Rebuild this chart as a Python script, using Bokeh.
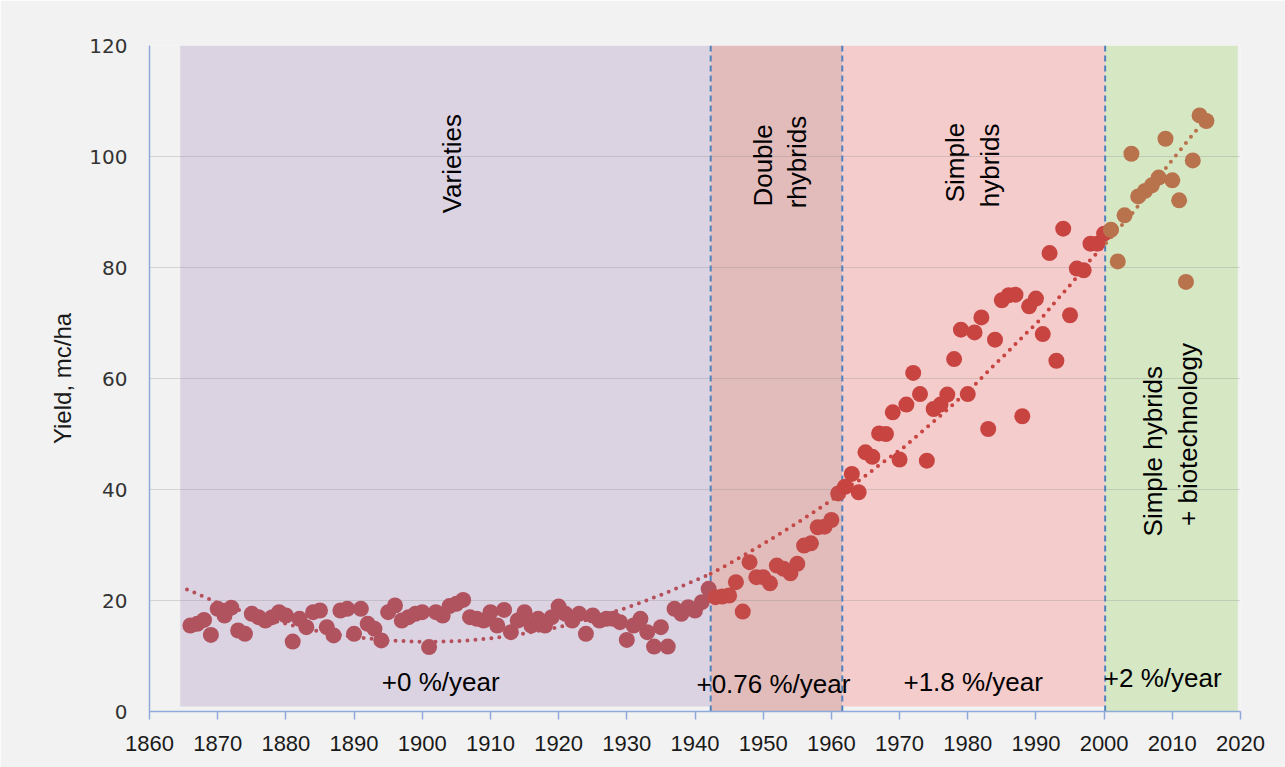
import math
from bokeh.plotting import figure
from bokeh.models import ColumnDataSource, Range1d, FixedTicker
from bokeh.core.properties import value
from bokeh.embed import file_html
from bokeh.resources import INLINE

# ---------------- data ----------------
years = list(range(1866, 2016))
yields = [
    15.5, 15.8, 16.5, 13.8, 18.5, 17.3, 18.7, 14.6, 14.0, 17.6,   # 1866-1875
    17.0, 16.4, 17.0, 17.9, 17.3, 12.6, 16.7, 15.2, 17.9, 18.2,   # 1876-1885
    15.2, 13.7, 18.2, 18.5, 14.0, 18.5, 15.8, 14.9, 12.8, 17.9,   # 1886-1895
    19.1, 16.4, 17.0, 17.6, 17.9, 11.6, 17.9, 17.3, 19.0, 19.4,   # 1896-1905
    20.1, 17.0, 16.7, 16.4, 17.9, 15.5, 18.3, 14.3, 16.4, 17.9,   # 1906-1915
    15.5, 16.7, 15.5, 17.0, 18.9, 17.6, 16.4, 17.6, 14.0, 17.3,   # 1916-1925
    16.4, 16.7, 16.7, 16.1, 12.9, 15.5, 16.7, 14.3, 11.7, 15.2,   # 1926-1935
    11.7, 18.5, 17.6, 18.8, 18.2, 19.7, 22.1, 20.6, 20.7, 20.9,   # 1936-1945
    23.3, 18.0, 26.9, 24.2, 24.2, 23.1, 26.3, 25.7, 24.9, 26.6,   # 1946-1955
    29.9, 30.3, 33.2, 33.3, 34.5, 39.3, 40.5, 42.8, 39.5, 46.7,   # 1956-1965
    45.9, 50.1, 50.0, 53.9, 45.4, 55.3, 61.0, 57.2, 45.2, 54.5,   # 1966-1975
    55.3, 57.1, 63.5, 68.8, 57.2, 68.3, 71.0, 50.9, 67.0, 74.1,   # 1976-1985
    75.0, 75.1, 53.2, 73.0, 74.4, 68.0, 82.6, 63.2, 87.0, 71.4,   # 1986-1995
    79.8, 79.5, 84.3, 84.3, 86.1, 86.8, 81.1, 89.4, 100.5, 92.8,  # 1996-2005
    93.8, 94.8, 96.2, 103.2, 95.7, 92.1, 77.4, 99.3, 107.4, 106.4 # 2006-2015
]

# trend lines (dotted)
trend1_years = [1865.5, 1870, 1875, 1880, 1885, 1890, 1895, 1901, 1907, 1913,
                1920, 1925, 1930, 1935, 1942.3, 1946, 1950, 1954, 1958, 1961.5]
trend1_vals = [22.0, 19.6, 17.5, 15.8, 14.4, 13.4, 12.8, 12.5, 12.8, 13.6,
               15.2, 16.8, 18.7, 21.0, 24.8, 27.3, 30.2, 33.2, 36.4, 39.3]
trend2_years = [1962, 1964.3, 1967, 1970.6, 1974, 1976, 1980.9, 1983.3, 1985.8,
                1988.2, 1990.7, 1993.1, 1995.5, 1997.5, 1999.6]
trend2_vals = [40.2, 41.8, 44.4, 47.6, 51.2, 53.3, 58.7, 61.7, 64.7,
               67.7, 70.7, 74.2, 77.5, 80.7, 83.5]
trend3_years = [2000.3, 2004.5, 2009.1, 2013.5, 2014.6]
trend3_vals = [84.4, 90.3, 98.0, 104.7, 106.2]

era_labels = [["Varieties"], ["Double", "rhybrids"], ["Simple", "hybrids"],
              ["Simple hybrids", "+ biotechnology"]]
era_rates = ["+0 %/year", "+0.76 %/year", "+1.8 %/year", "+2 %/year"]
era_bounds = [1864.5, 1942.3, 1961.6, 2000.15, 2019.6]

x_ticks = list(range(1860, 2021, 10))
y_ticks = [0, 20, 40, 60, 80, 100, 120]

# ---------------- styles ----------------
band_colors = ["#dbd3e2", "#e2bbbb", "#f5cccc", "#d6e7c4"]
band_bottoms = [0.9, 0.0, 0.9, 0.0]
point_colors = ["#b0535f", "#c44a48", "#c84440", "#b8734d"]
trend_colors = ["#b5505b", "#c44a48", "#c84440", "#b8734d"]
axis_blue = "#8eaadb"
FONT = "Liberation Sans"

p = figure(width=1285, height=767,
           x_range=Range1d(1860, 2020), y_range=Range1d(0, 120),
           output_backend="svg", toolbar_location=None,
           min_border_left=149, min_border_right=45,
           min_border_top=45, min_border_bottom=56,
           background_fill_color="#f2f2f2", border_fill_color="#f2f2f2")
p.outline_line_color = None

# bands
p.quad(left=era_bounds[:-1], right=era_bounds[1:], bottom=band_bottoms,
       top=[120] * 4, fill_color=band_colors, line_color=None, level="image")

# grid
p.xgrid.visible = False
p.ygrid.ticker = FixedTicker(ticks=y_ticks[1:])
p.ygrid.grid_line_color = "#8a8a8a"
p.ygrid.grid_line_alpha = 0.3
p.ygrid.grid_line_width = 1

# dashed separators
p.segment(x0=era_bounds[1:4], x1=era_bounds[1:4], y0=[0] * 3, y1=[120] * 3,
          line_color="#4f81bd", line_width=2, line_dash="6 4")

# trend lines
def dotted(xs, ys, color):
    p.line(xs, ys, line_color=color, line_width=4, line_dash="0 8",
           line_cap="round")

i_split = trend1_years.index(1942.3)
dotted(trend1_years[:i_split + 1], trend1_vals[:i_split + 1], trend_colors[0])
dotted(trend1_years[i_split:], trend1_vals[i_split:], trend_colors[1])
dotted(trend2_years, trend2_vals, trend_colors[2])
dotted(trend3_years, trend3_vals, trend_colors[3])

# points
def era_of(y):
    for k in range(4):
        if y < era_bounds[k + 1]:
            return k
    return 3

src = ColumnDataSource(dict(x=years, y=yields,
                            c=[point_colors[era_of(y)] for y in years]))
p.scatter("x", "y", source=src, size=16, fill_color="c", line_color=None)

# era labels (rotated)
lab_pos = [[(1904.4, 98.7)], [(1949.9, 98.4), (1955.0, 99.0)],
           [(1978.2, 98.9), (1983.3, 98.4)], [(2007.1, 46.9), (2012.3, 49.9)]]
for k in range(4):
    for txt, (lx, ly) in zip(era_labels[k], lab_pos[k]):
        p.text(x=[lx], y=[ly], text=[txt], angle=math.pi / 2,
               text_align="center", text_baseline="middle",
               text_font=value(FONT), text_font_size="26px",
               text_color="#000000")

rate_pos = [(1902.7, 5.4), (1951.5, 5.0), (1980.8, 5.4), (2008.6, 6.1)]
for txt, (rx, ry) in zip(era_rates, rate_pos):
    p.text(x=[rx], y=[ry], text=[txt], text_align="center",
           text_baseline="middle", text_font=value(FONT),
           text_font_size="26px", text_color="#000000")

# axes
p.xaxis.ticker = FixedTicker(ticks=x_ticks)
p.xaxis.axis_line_color = axis_blue
p.xaxis.axis_line_width = 1.5
p.xaxis.major_tick_line_color = axis_blue
p.xaxis.major_tick_line_width = 1.5
p.xaxis.major_tick_out = 8
p.xaxis.major_tick_in = 0
p.xaxis.minor_tick_line_color = None
p.xaxis.major_label_text_font = FONT
p.xaxis.major_label_text_font_size = "22px"
p.xaxis.major_label_text_color = "#1a1a1a"
p.xaxis.major_label_standoff = 16

p.yaxis.ticker = FixedTicker(ticks=y_ticks)
p.yaxis.axis_line_color = axis_blue
p.yaxis.axis_line_width = 1.5
p.yaxis.major_tick_line_color = None
p.yaxis.major_tick_out = 0
p.yaxis.major_tick_in = 0
p.yaxis.minor_tick_line_color = None
p.yaxis.major_label_text_font = "DejaVu Sans"
p.yaxis.major_label_text_font_size = "20px"
p.yaxis.major_label_text_color = "#333333"
p.yaxis.major_label_standoff = 22
p.yaxis.axis_label = "Yield, mc/ha"
p.yaxis.axis_label_text_font = FONT
p.yaxis.axis_label_text_font_size = "24px"
p.yaxis.axis_label_text_font_style = "normal"
p.yaxis.axis_label_text_color = "#1a1a1a"
p.yaxis.axis_label_standoff = 10

open("out.html", "w").write(file_html(p, INLINE))
